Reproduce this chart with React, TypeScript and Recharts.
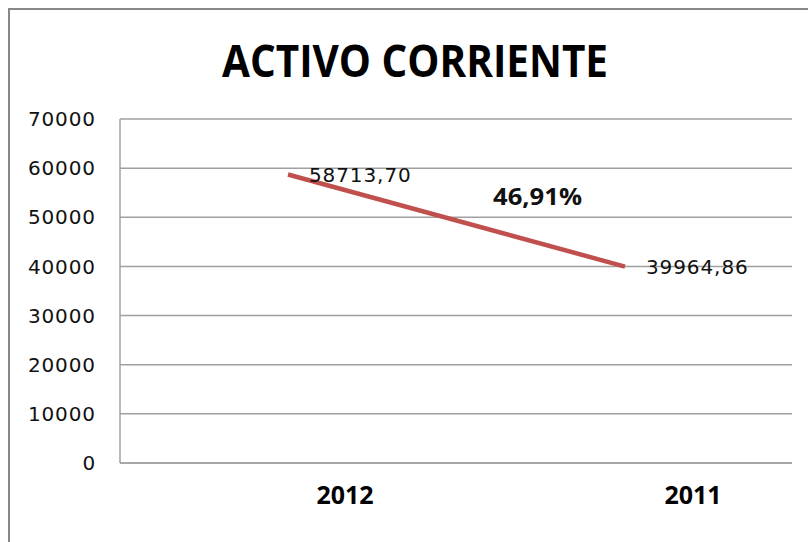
import React from 'react';
import { LineChart, Line, XAxis, YAxis, CartesianGrid, LabelList } from 'recharts';

const years = ['2012', '2011'];
const activoCorriente = [58713.7, 39964.86];
const yTicks = [0, 10000, 20000, 30000, 40000, 50000, 60000, 70000];
const chartTitle = 'ACTIVO CORRIENTE';
const changeLabel = '46,91%';

const data = years.map((year, i) => ({ year, value: activoCorriente[i] }));

const fmt = (v: number) => v.toFixed(2).replace('.', ',');

const labelFont = { fontFamily: "'DejaVu Sans', sans-serif", fontSize: 20, fill: '#111', letterSpacing: 0.9 };

// category labels sit right of the data points, as in the original sheet
const YearTick = (props: any) => {
  const { x, y, payload, index } = props;
  return (
    <text
      x={x + 57 + index * 11}
      y={y + 39}
      textAnchor="middle"
      fontFamily="'Open Sans', sans-serif"
      fontWeight={700}
      fontSize={25}
      fill="#000"
    >
      {payload.value}
    </text>
  );
};

export default function App() {
  return (
    <div style={{ position: 'absolute', left: 0, top: 0, width: 808, height: 542, overflow: 'hidden', background: '#fff' }}>
      <div
        style={{
          position: 'absolute',
          left: 8,
          top: 8,
          width: 900,
          height: 700,
          borderTop: '2px solid #888',
          borderLeft: '2px solid #888',
        }}
      />
      <div style={{ position: 'absolute', left: 0, top: 0 }}>
        <LineChart width={808} height={542} data={data} margin={{ top: 119, right: 16, bottom: 19, left: 0 }}>
          <CartesianGrid vertical={false} stroke="#a0a0a0" strokeWidth={1.5} />
          <XAxis
            dataKey="year"
            height={60}
            padding={{ left: 168, right: 167 }}
            axisLine={{ stroke: '#a0a0a0', strokeWidth: 1.5 }}
            tickLine={false}
            tickSize={0}
            tick={<YearTick />}
          />
          <YAxis
            width={120}
            domain={[0, 70000]}
            ticks={yTicks}
            interval={0}
            axisLine={{ stroke: '#a0a0a0', strokeWidth: 1.5 }}
            tickLine={false}
            tickSize={0}
            tickMargin={24}
            tick={labelFont}
          />
          <Line
            type="linear"
            dataKey="value"
            stroke="#c0504d"
            strokeWidth={4.5}
            dot={false}
            isAnimationActive={false}
          >
            <LabelList
              dataKey="value"
              position="right"
              offset={21}
              formatter={(v: any) => fmt(Number(v))}
              style={labelFont}
            />
          </Line>
        </LineChart>
      </div>
      <svg width={808} height={542} style={{ position: 'absolute', left: 0, top: 0, pointerEvents: 'none' }}>
        <text
          x={415}
          y={77}
          textAnchor="middle"
          textLength={386}
          lengthAdjust="spacingAndGlyphs"
          fontFamily="'Open Sans', sans-serif"
          fontWeight={700}
          fontSize={45}
          fill="#000"
        >
          {chartTitle}
        </text>
        <text
          x={493}
          y={205}
          textLength={89}
          lengthAdjust="spacingAndGlyphs"
          fontFamily="'Open Sans', sans-serif"
          fontWeight={700}
          fontSize={24}
          fill="#111"
        >
          {changeLabel}
        </text>
      </svg>
    </div>
  );
}
